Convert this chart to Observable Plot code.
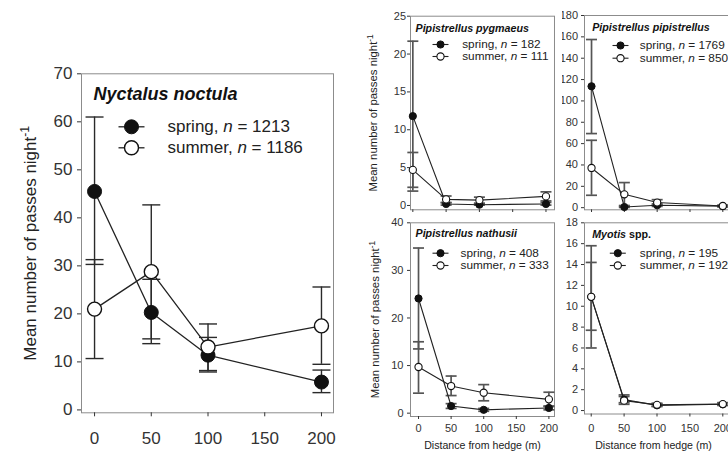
<!DOCTYPE html>
<html>
<head>
<meta charset="utf-8">
<script src="https://cdn.jsdelivr.net/npm/d3@7"></script>
<script src="https://cdn.jsdelivr.net/npm/@observablehq/plot@0.6"></script>
<style>
  html, body { margin: 0; padding: 0; background: white; }
  #chart { position: relative; width: 728px; height: 452px; overflow: hidden; background: white; }
  #chart svg { position: absolute; }
</style>
</head>
<body>
<div id="chart"></div>
<script>
// ---------------- DATA ----------------
const distance = [0, 50, 100, 200];
const xTicks = [0, 50, 100, 150, 200];
const seasons = ["spring", "summer"];
const species = ["Nyctalus noctula", "Pipistrellus pygmaeus", "Pipistrellus pipistrellus", "Pipistrellus nathusii", "Myotis spp."];
const nSpring = [1213, 182, 1769, 408, 195];
const nSummer = [1186, 111, 850, 333, 192];
const yLabel = "Mean number of passes night-1";
const xLabel = "Distance from hedge (m)";

// Nyctalus noctula
const nocSpring = [45.5, 20.3, 11.4, 5.8];
const nocSpringLo = [30.3, 13.8, 7.9, 3.6];
const nocSpringHi = [61.0, 27.2, 15.1, 8.3];
const nocSummer = [21.0, 28.8, 13.1, 17.5];
const nocSummerLo = [10.7, 14.8, 8.2, 9.5];
const nocSummerHi = [31.3, 42.7, 17.9, 25.6];
const nocTicks = [0, 10, 20, 30, 40, 50, 60, 70];

// Pipistrellus pygmaeus
const pygSpring = [11.8, 0.2, 0.1, 0.2];
const pygSpringLo = [1.9, 0.05, 0.05, 0.05];
const pygSpringHi = [21.7, 0.4, 0.25, 0.4];
const pygSummer = [4.7, 0.8, 0.7, 1.2];
const pygSummerLo = [2.4, 0.35, 0.3, 0.6];
const pygSummerHi = [7.0, 1.25, 1.1, 1.8];
const pygTicks = [0, 5, 10, 15, 20, 25];

// Pipistrellus pipistrellus
const pipSpring = [113.7, 0.6, 2.3, 1.4];
const pipSpringLo = [69.4, 0.2, 1.2, 0.8];
const pipSpringHi = [157.5, 1.2, 3.5, 2.0];
const pipSummer = [37.2, 12.5, 4.8, 1.6];
const pipSummerLo = [11.6, 2.0, 2.5, 0.8];
const pipSummerHi = [63.1, 23.5, 7.5, 2.4];
const pipTicks = [0, 20, 40, 60, 80, 100, 120, 140, 160, 180];

// Pipistrellus nathusii
const natSpring = [24.1, 1.5, 0.7, 1.1];
const natSpringLo = [13.5, 1.0, 0.4, 0.7];
const natSpringHi = [34.7, 2.0, 1.0, 1.5];
const natSummer = [9.7, 5.7, 4.3, 2.9];
const natSummerLo = [4.2, 3.7, 2.6, 1.4];
const natSummerHi = [15.0, 7.8, 6.0, 4.4];
const natTicks = [0, 10, 20, 30, 40];

// Myotis spp.
const myoSpring = [10.9, 1.05, 0.5, 0.6];
const myoSpringLo = [6.0, 0.75, 0.4, 0.5];
const myoSpringHi = [15.8, 1.5, 0.65, 0.75];
const myoSummer = [10.9, 0.95, 0.55, 0.62];
const myoSummerLo = [7.7, 0.6, 0.4, 0.5];
const myoSummerHi = [14.2, 1.35, 0.7, 0.75];
const myoTicks = [0, 2, 4, 6, 8, 10, 12, 14, 16, 18];

// ---------------- HELPERS ----------------
const rows = (m, lo, hi) => distance.map((d, i) => ({d, m: m[i], lo: lo[i], hi: hi[i]}));
const capSymbol = {
  draw(ctx, size) { const w = Math.sqrt(size / Math.PI); ctx.moveTo(-w, 0); ctx.lineTo(w, 0); }
};

function makePanel(p) {
  const spring = rows(p.spring, p.springLo, p.springHi);
  const summer = rows(p.summer, p.summerLo, p.summerHi);
  const all = [...spring, ...summer];
  const caps = all.flatMap(r => [{d: r.d, v: r.lo}, {d: r.d, v: r.hi}]);
  const marks = [
    Plot.frame({stroke: "#8c8c8c", strokeWidth: 1}),
    Plot.axisY(p.yTicks, {anchor: "left", tickSize: p.yTickSize, tickPadding: p.yTickPad, fontSize: p.tickFs, label: null}),
    Plot.axisX(xTicks, {anchor: "bottom", tickSize: p.xTickSize, tickPadding: p.xTickPad, fontSize: p.tickFs, label: null,
      tickFormat: p.showX ? (d => String(d)) : (() => "")}),
    Plot.ruleX(all, {x: "d", y1: "lo", y2: "hi", stroke: p.errColor, strokeWidth: p.errW}),
    Plot.dot(caps, {x: "d", y: "v", symbol: capSymbol, r: p.capR, stroke: p.errColor, strokeWidth: p.errW, fill: "none"}),
    Plot.line(spring, {x: "d", y: "m", stroke: "#222", strokeWidth: p.lineW}),
    Plot.line(summer, {x: "d", y: "m", stroke: "#222", strokeWidth: p.lineW}),
    Plot.dot(spring, {x: "d", y: "m", r: p.dotR, fill: "#111", stroke: "#111", strokeWidth: 1}),
    Plot.dot(summer, {x: "d", y: "m", r: p.dotR, fill: "white", stroke: "#111", strokeWidth: p.dotSW}),
    Plot.text([p.name], {frameAnchor: "top-left", dx: p.titleDx, dy: p.titleDy, text: d => d, textAnchor: "start",
      lineAnchor: "middle", fontWeight: "bold", fontStyle: "italic", fontSize: p.titleFs, fill: "#111"})
  ];
  seasons.forEach((s, i) => {
    const n = i === 0 ? p.nSpring : p.nSummer;
    marks.push(
      Plot.dot([s], {frameAnchor: "top-left", dx: p.legDx, dy: p.legDy[i], symbol: capSymbol, r: p.legHalf,
        stroke: "#222", strokeWidth: p.lineW, fill: "none"}),
      Plot.dot([s], {frameAnchor: "top-left", dx: p.legDx, dy: p.legDy[i], r: p.dotR,
        fill: i === 0 ? "#111" : "white", stroke: "#111", strokeWidth: i === 0 ? 1 : p.dotSW}),
      Plot.text([`${s}, n = ${n}`], {frameAnchor: "top-left", dx: p.legTextDx, dy: p.legDy[i], text: d => d,
        textAnchor: "start", lineAnchor: "middle", fontSize: p.legFs, fill: "#222"})
    );
  });
  if (p.yLabelDx != null) {
    marks.push(Plot.text([yLabel], {frameAnchor: "left", dx: p.yLabelDx, rotate: -90, text: d => d,
      textAnchor: "middle", lineAnchor: "middle", fontSize: p.yLabelFs, fill: "#222"}));
  }
  if (p.xLabelDy != null) {
    marks.push(Plot.text([xLabel], {frameAnchor: "bottom", dx: p.xLabelDx || 0, dy: p.xLabelDy, text: d => d,
      textAnchor: "middle", lineAnchor: "middle", fontSize: p.xLabelFs, fill: "#222"}));
  }
  const svg = Plot.plot({
    width: p.width, height: p.height,
    marginLeft: p.mL, marginRight: p.mR, marginTop: p.mT, marginBottom: p.mB,
    x: {domain: p.xDom},
    y: {domain: p.yDom},
    style: {fontFamily: "'Liberation Sans', Arial, sans-serif", color: "#333", background: "white"},
    marks
  });
  svg.style.left = p.left + "px";
  svg.style.top = p.top + "px";
  svg.style.maxWidth = "none";
  svg.style.overflow = "hidden";
  // rich text: italic n, superscript, non-italic "spp."
  const ns = "http://www.w3.org/2000/svg";
  svg.querySelectorAll("text").forEach(t => {
    const s = t.textContent;
    let m;
    const span = (txt, attrs = {}) => {
      const e = document.createElementNS(ns, "tspan");
      e.textContent = txt;
      for (const k in attrs) e.setAttribute(k, attrs[k]);
      t.appendChild(e);
    };
    if ((m = s.match(/^(.*, )n( = \d+)$/))) {
      t.textContent = "";
      span(m[1]); span("n", {"font-style": "italic"}); span(m[2]);
    } else if (s === yLabel) {
      t.textContent = "";
      span("Mean number of passes night");
      span("-1", {"font-size": "72%", dy: "-0.55em"});
    } else if (s === "Myotis spp.") {
      t.textContent = "";
      span("Myotis"); span(" spp.", {"font-style": "normal"});
    }
  });
  return svg;
}

const small = {
  tickFs: 11, titleFs: 10.7, legFs: 11.8, yLabelFs: 11.4, xLabelFs: 10.6,
  yTickSize: 3, xTickSize: 3, errColor: "#555", errW: 1.7, capR: 5.5, lineW: 1.1,
  dotR: 3.6, dotSW: 1.1, legHalf: 8
};

const panels = [
  { // Nyctalus noctula (big)
    name: species[0], nSpring: nSpring[0], nSummer: nSummer[0],
    spring: nocSpring, springLo: nocSpringLo, springHi: nocSpringHi,
    summer: nocSummer, summerLo: nocSummerLo, summerHi: nocSummerHi, yTicks: nocTicks,
    left: 0, top: 0, width: 345, height: 452, mL: 81, mR: 12, mT: 73.3, mB: 39.7,
    xDom: [-11.5, 210.6], yDom: [-0.6, 70],
    tickFs: 17, titleFs: 18, legFs: 17, yLabelFs: 17,
    yTickSize: 4, yTickPad: 5, xTickSize: 4, xTickPad: 15, showX: true,
    errColor: "#2a2a2a", errW: 1.4, capR: 9, lineW: 1.3, dotR: 7, dotSW: 1.4, legHalf: 13,
    titleDx: 12, titleDy: 20, legDx: 50, legDy: [53, 74], legTextDx: 86, yLabelDx: -51
  },
  { ...small, // Pipistrellus pipistrellus (top right)
    name: species[2], nSpring: nSpring[2], nSummer: nSummer[2],
    spring: pipSpring, springLo: pipSpringLo, springHi: pipSpringHi,
    summer: pipSummer, summerLo: pipSummerLo, summerHi: pipSummerHi, yTicks: pipTicks,
    left: 540, top: 0, width: 200, height: 212, mL: 44, mR: 10, mT: 15, mB: 2.7,
    xDom: [-10.7, 211.7], yDom: [-2, 180], yTickPad: 3.5, xTickPad: 3, showX: false,
    titleDx: 7.7, titleDy: 11.7, legDx: 36, legDy: [30, 42.7], legTextDx: 55.3
  },
  { ...small, // Pipistrellus pygmaeus (top left)
    name: species[1], nSpring: nSpring[1], nSummer: nSummer[1],
    spring: pygSpring, springLo: pygSpringLo, springHi: pygSpringHi,
    summer: pygSummer, summerLo: pygSummerLo, summerHi: pygSummerHi, yTicks: pygTicks,
    left: 360, top: 0, width: 202.3, height: 212, mL: 50, mR: 8.3, mT: 15.7, mB: 2.7,
    xDom: [-3.5, 212.8], yDom: [-0.57, 25], yTickPad: 1.5, xTickPad: 3, showX: false,
    titleDx: 5, titleDy: 12.3, legDx: 30, legDy: [28.3, 40.3], legTextDx: 51.7, yLabelDx: -37
  },
  { ...small, // Myotis spp. (bottom right)
    name: species[4], nSpring: nSpring[4], nSummer: nSummer[4],
    spring: myoSpring, springLo: myoSpringLo, springHi: myoSpringHi,
    summer: myoSummer, summerLo: myoSummerLo, summerHi: myoSummerHi, yTicks: myoTicks,
    left: 540, top: 212, width: 200, height: 240, mL: 44, mR: 10, mT: 10.3, mB: 38.5,
    xDom: [-10.2, 211.7], yDom: [-0.33, 18], yTickPad: 3.5, xTickPad: 7.5, showX: true,
    titleDx: 7.7, titleDy: 11.7, legDx: 33.3, legDy: [30.4, 42.7], legTextDx: 55.3,
    xLabelDy: 31.5, xLabelDx: -4
  },
  { ...small, // Pipistrellus nathusii (bottom left)
    name: species[3], nSpring: nSpring[3], nSummer: nSummer[3],
    spring: natSpring, springLo: natSpringLo, springHi: natSpringHi,
    summer: natSummer, summerLo: natSummerLo, summerHi: natSummerHi, yTicks: natTicks,
    left: 360, top: 212, width: 202, height: 240, mL: 50, mR: 8, mT: 10.3, mB: 36,
    xDom: [-12.3, 208.6], yDom: [-0.7, 40], yTickPad: 4, xTickPad: 5, showX: true,
    titleDx: 5, titleDy: 11, legDx: 30, legDy: [30.4, 42.7], legTextDx: 50,
    yLabelDx: -35, xLabelDy: 29
  }
];

const chart = document.getElementById("chart");
panels.forEach(p => chart.appendChild(makePanel(p)));
</script>
</body>
</html>
